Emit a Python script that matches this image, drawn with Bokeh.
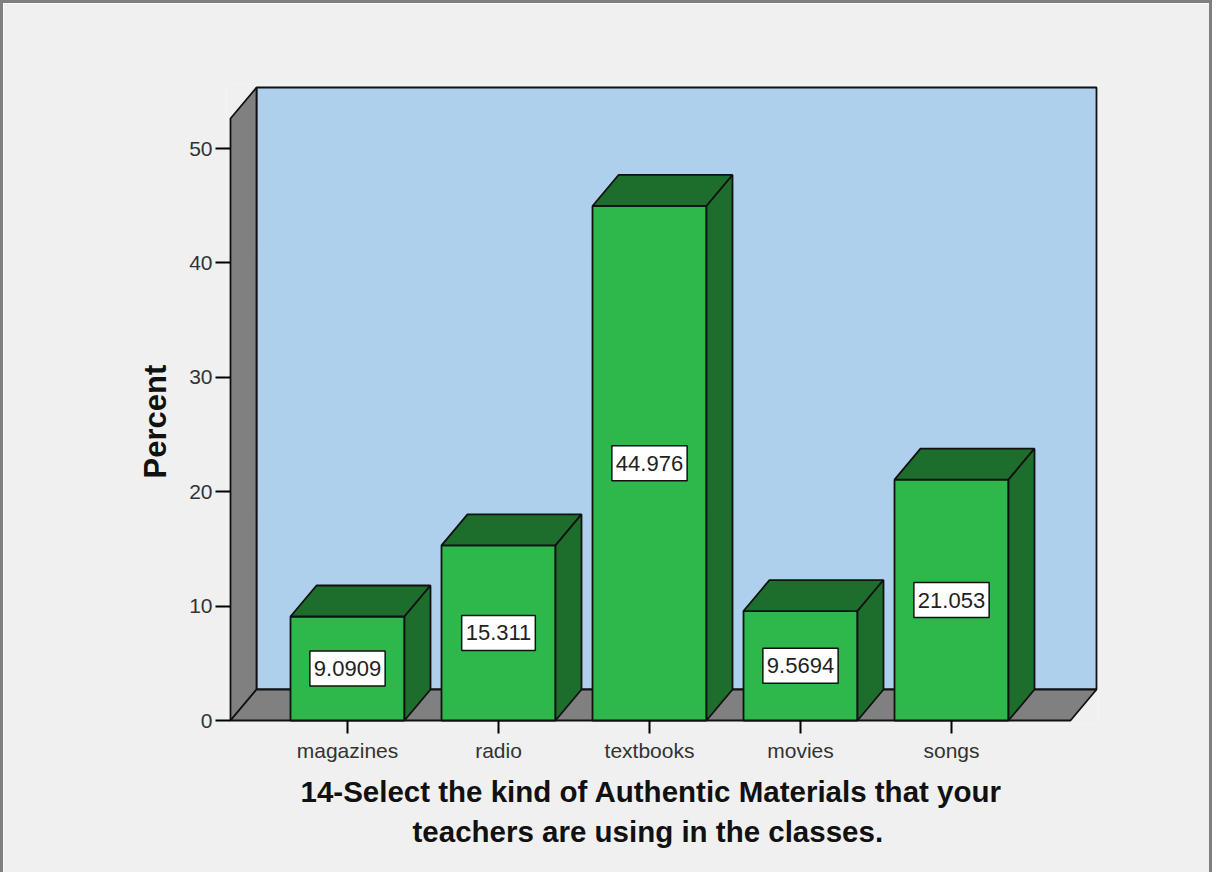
from bokeh.plotting import figure
from bokeh.models import Range1d, FixedTicker, Label, Title
from bokeh.embed import file_html
from bokeh.resources import INLINE

# ---------------- data ----------------
categories = ["magazines", "radio", "textbooks", "movies", "songs"]
percent = [9.0909, 15.311, 44.976, 9.5694, 21.053]
y_ticks = [0, 10, 20, 30, 40, 50]
x_title_lines = ["14-Select the kind of Authentic Materials that your",
                 "teachers are using in the classes."]
y_title = "Percent"

# ---------------- styling / geometry ----------------
FONT = "Liberation Sans"
PX_X = 151.0     # pixels per category step
PX_Y = 11.44     # pixels per percent
X0 = 1 - 117 / PX_X          # front-left corner of floor
X1 = X0 + 840 / PX_X         # front-right corner of floor
DX = 26 / PX_X               # 3D depth offset
DY = 31 / PX_Y
WALL_TOP = (720 - 87) / PX_Y
HW = 57 / PX_X               # bar half width

BG = "#F0F0F0"
WALL = "#AED0ED"
GRAY = "#808080"
GREEN = "#2EB84B"
DARK = "#1D6E2D"
EDGE = "#111111"
LW = 1.8

pos = list(range(1, len(categories) + 1))

p = figure(width=1212, height=872, output_backend="svg", toolbar_location=None,
           x_range=Range1d(X0 - 4 / PX_X, X0 + (1098 - 230) / PX_X),
           y_range=Range1d(-4 / PX_Y, (720 - 84) / PX_Y),
           min_border_left=223, min_border_right=117,
           min_border_top=81, min_border_bottom=151)
p.background_fill_color = BG
p.border_fill_color = BG
p.outline_line_color = None
p.grid.visible = False
p.styles = {"border-top": "3px solid #808080", "border-left": "3px solid #808080",
            "border-right": "3px solid #808080"}

# walls and floor
p.patch([X0 + DX, X1 + DX, X1 + DX, X0 + DX], [DY, DY, WALL_TOP, WALL_TOP],
        fill_color=WALL, line_color=EDGE, line_width=LW)
p.patch([X0, X0 + DX, X0 + DX, X0], [0, DY, WALL_TOP, WALL_TOP - DY],
        fill_color=GRAY, line_color=EDGE, line_width=LW)
p.patch([X0, X1, X1 + DX, X0 + DX], [0, 0, DY, DY],
        fill_color=GRAY, line_color=EDGE, line_width=LW)

# bars
lefts = [x - HW for x in pos]
rights = [x + HW for x in pos]
p.quad(left=lefts, right=rights, bottom=0, top=percent,
       fill_color=GREEN, line_color=EDGE, line_width=LW)
top_xs = [[l, r, r + DX, l + DX] for l, r in zip(lefts, rights)]
top_ys = [[v, v, v + DY, v + DY] for v in percent]
p.patches(top_xs, top_ys, fill_color=DARK, line_color=EDGE, line_width=LW)
side_xs = [[r, r + DX, r + DX, r] for r in rights]
side_ys = [[0, DY, v + DY, v] for v in percent]
p.patches(side_xs, side_ys, fill_color=DARK, line_color=EDGE, line_width=LW)

# value labels
for x, v in zip(pos, percent):
    p.add_layout(Label(x=x, y=v / 2, text=f"{v:.5g}", text_align="center",
                       text_baseline="middle", text_font=FONT,
                       text_font_size="22px", text_color="#222222",
                       background_fill_color="white", border_line_color=EDGE,
                       border_line_width=1.5, padding=(4, 10)))

# axes
ya = p.yaxis[0]
ya.ticker = FixedTicker(ticks=y_ticks)
ya.axis_line_color = None
ya.major_tick_in = 4
ya.major_tick_out = 11
ya.major_tick_line_width = 2
ya.minor_tick_line_color = None
ya.major_label_text_font = FONT
ya.major_label_text_font_size = "21px"
ya.major_label_text_color = "#333333"
ya.major_label_standoff = 3

xa = p.xaxis[0]
xa.ticker = FixedTicker(ticks=pos)
xa.major_label_overrides = {i: c for i, c in zip(pos, categories)}
xa.axis_line_color = None
xa.major_tick_in = 4
xa.major_tick_out = 9
xa.major_tick_line_width = 2
xa.minor_tick_line_color = None
xa.major_label_text_font = FONT
xa.major_label_text_font_size = "21px"
xa.major_label_text_color = "#333333"
xa.major_label_standoff = 5

# titles
p.add_layout(Title(text=y_title, align="left", offset=246, standoff=28,
                   text_font=FONT, text_font_size="31px",
                   text_font_style="bold", text_color="#111111"), "left")
title_offsets = [74, 186]
title_standoffs = [16, -5]
for line, off, so in zip(x_title_lines, title_offsets, title_standoffs):
    p.add_layout(Title(text=line, align="left", offset=off, standoff=so,
                       text_font=FONT, text_font_size="29.5px",
                       text_font_style="bold", text_color="#111111"), "below")

open("out.html", "w").write(file_html(p, INLINE))
